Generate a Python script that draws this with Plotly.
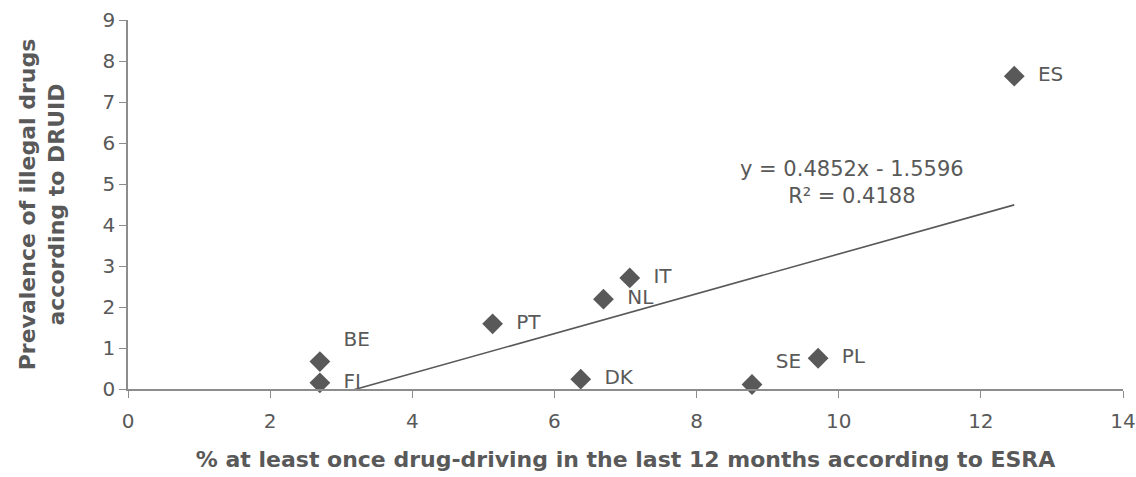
import plotly.graph_objects as go

countries = ["BE", "FI", "PT", "DK", "NL", "IT", "SE", "PL", "ES"]
esra_pct = [2.70, 2.70, 5.13, 6.37, 6.69, 7.06, 8.78, 9.71, 12.47]
druid_prev = [0.67, 0.15, 1.59, 0.24, 2.19, 2.71, 0.11, 0.75, 7.63]
label_pos = ["top right", "middle right", "middle right", "middle right", "middle right",
             "middle right", "top right", "middle right", "middle right"]

slope = 0.4852
intercept = -1.5596
r2 = 0.4188

x_ticks = [0, 2, 4, 6, 8, 10, 12, 14]
y_ticks = [0, 1, 2, 3, 4, 5, 6, 7, 8, 9]

grey = "#595959"
font_family = "DejaVu Sans, Verdana, sans-serif"

fig = go.Figure()

# Trend line (linear fit) from min to max x, clipped by the axis range
x0, x1 = min(esra_pct), max(esra_pct)
fig.add_trace(go.Scatter(
    x=[x0, x1], y=[slope * x0 + intercept, slope * x1 + intercept],
    mode="lines", line=dict(color=grey, width=1.6), hoverinfo="skip", showlegend=False,
))

fig.add_trace(go.Scatter(
    x=esra_pct, y=druid_prev, mode="markers+text",
    text=["  " + c for c in countries], textposition=label_pos,
    textfont=dict(family=font_family, size=20, color=grey),
    marker=dict(symbol="diamond", size=16, color=grey),
    showlegend=False, cliponaxis=False,
))

fig.add_annotation(
    x=10.19, y=5.03, xref="x", yref="y", showarrow=False,
    text=f"y = {slope}x - {abs(intercept)}<br>R² = {r2}",
    font=dict(family=font_family, size=21, color=grey), align="center",
)

fig.update_layout(
    width=1136, height=477,
    margin=dict(l=128, r=13, t=20, b=88),
    plot_bgcolor="white", paper_bgcolor="white",
    font=dict(family=font_family, color=grey),
)
fig.update_xaxes(
    range=[0, 14], tickvals=x_ticks, ticktext=[str(v) for v in x_ticks],
    showgrid=False, zeroline=False, showline=True, linecolor="#8c8c8c", linewidth=1.5,
    ticks="outside", ticklen=7, tickcolor="#8c8c8c", ticklabelstandoff=6,
    tickfont=dict(family=font_family, size=20, color=grey), automargin=False,
    title=dict(text="<b>% at least once drug-driving in the last 12 months according to ESRA</b>",
               font=dict(family=font_family, size=22, color=grey), standoff=20),
)
fig.update_yaxes(
    range=[0, 9], tickvals=y_ticks, ticktext=[str(v) for v in y_ticks],
    showgrid=False, zeroline=False, showline=True, linecolor="#8c8c8c", linewidth=1.5,
    ticks="outside", ticklen=7, tickcolor="#8c8c8c",
    tickfont=dict(family=font_family, size=20, color=grey), automargin=False,
    title=dict(text="<b>Prevalence of illegal drugs<br>according to DRUID</b>",
               font=dict(family=font_family, size=22, color=grey), standoff=32),
)

fig.write_html("out.html", config={"displayModeBar": False},
               post_script="document.body.style.margin='0';document.body.style.overflow='hidden';")
